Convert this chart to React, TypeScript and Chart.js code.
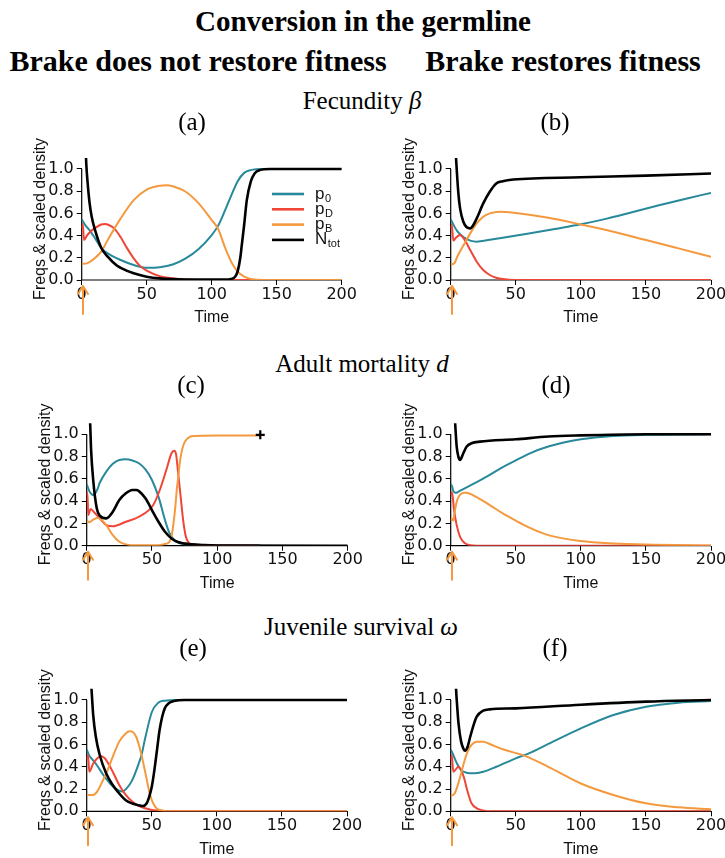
import React, { useEffect, useRef } from "react";
import { Chart, registerables } from "chart.js";

Chart.register(...registerables);

// ---------- styling ----------
const TEAL = "#27899a";
const RED = "#ef4638";
const ORANGE = "#f4993e";
const BLACK = "#000000";
const SANS = '"Liberation Sans", Arial, sans-serif';
const TICKFONT = '"DejaVu Sans", sans-serif';
const SERIF = '"Liberation Serif", "Times New Roman", serif';

// ---------- shared axis data ----------
const X_TICKS = [0, 50, 100, 150, 200];
const Y_TICKS = [0, 0.2, 0.4, 0.6, 0.8, 1.0];
const Y_MAX = 1.1;
const X_TITLE = "Time";
const Y_TITLE = "Freqs & scaled density";
const SERIES_MAIN = ["p", "p", "p", "N"];
const SERIES_SUB = ["0", "D", "B", "tot"];
const RELEASE_TIME = 1;

// ---------- panel (a): fecundity, brake does not restore fitness ----------
const aTP0 = [0, 3, 6, 10, 15, 20, 30, 40, 50, 60, 70, 80, 90, 100, 105, 110, 115, 120, 125, 130, 140, 200];
const aP0 = [0.547, 0.49, 0.45, 0.38, 0.29, 0.24, 0.18, 0.135, 0.11, 0.115, 0.14, 0.195, 0.28, 0.405, 0.49, 0.62, 0.76, 0.89, 0.965, 0.99, 1.0, 1.0];
const aTPD = [0, 0.8, 1.8, 4, 7, 10, 15, 18, 20, 25, 30, 35, 40, 45, 50, 60, 70, 80, 100, 200];
const aPD = [0.466, 0.505, 0.36, 0.4, 0.44, 0.465, 0.5, 0.505, 0.5, 0.465, 0.385, 0.285, 0.195, 0.125, 0.085, 0.035, 0.015, 0.005, 0, 0];
const aTPB = [0, 4, 10, 15, 20, 30, 40, 50, 60, 65, 70, 80, 90, 100, 105, 110, 115, 120, 125, 130, 140, 200];
const aPB = [0.145, 0.15, 0.195, 0.255, 0.36, 0.555, 0.72, 0.815, 0.85, 0.853, 0.845, 0.795, 0.69, 0.54, 0.46, 0.3, 0.165, 0.075, 0.03, 0.01, 0, 0];
const aTN = [0, 1, 2, 3, 3.5, 4.6, 6, 7.7, 10, 15, 20, 27, 30, 40, 50, 60, 80, 110, 115, 118, 120, 122, 123, 125, 127, 130, 133, 137, 145, 200];
const aN = [3.0, 2.2, 1.6, 1.2, 1.05, 0.87, 0.7, 0.57, 0.46, 0.29, 0.21, 0.13, 0.11, 0.06, 0.03, 0.015, 0.005, 0.003, 0.01, 0.03, 0.08, 0.2, 0.3, 0.5, 0.72, 0.885, 0.96, 0.99, 1.0, 1.0];

// ---------- panel (b): fecundity, brake restores fitness ----------
const bTP0 = [0, 2, 5, 10, 15, 20, 30, 40, 60, 80, 100, 120, 140, 160, 180, 200];
const bP0 = [0.547, 0.5, 0.44, 0.385, 0.355, 0.345, 0.362, 0.38, 0.418, 0.46, 0.502, 0.553, 0.613, 0.673, 0.73, 0.785];
const bTPD = [0, 0.8, 2, 4, 7, 10, 15, 20, 25, 30, 35, 40, 50, 200];
const bPD = [0.465, 0.5, 0.355, 0.38, 0.405, 0.375, 0.27, 0.165, 0.09, 0.045, 0.02, 0.008, 0, 0];
const bTPB = [0, 3, 5, 10, 15, 20, 25, 30, 38, 50, 75, 100, 125, 150, 175, 200];
const bPB = [0.14, 0.155, 0.21, 0.315, 0.42, 0.51, 0.57, 0.6, 0.615, 0.603, 0.56, 0.5, 0.435, 0.36, 0.285, 0.21];
const bTN = [0, 1, 2, 3, 4.1, 5.9, 7.2, 9.7, 12.3, 15, 17.4, 20, 25, 30, 35, 40, 48, 100, 150, 200];
const bN = [3.0, 2.2, 1.7, 1.35, 1.1, 0.78, 0.645, 0.525, 0.475, 0.465, 0.495, 0.555, 0.69, 0.795, 0.87, 0.89, 0.905, 0.925, 0.94, 0.96];

// ---------- panel (c): adult mortality, brake does not restore fitness ----------
const cTP0 = [0, 2, 5, 8, 10, 15, 20, 25, 30, 35, 40, 45, 50, 55, 60, 63, 66, 70, 80, 100, 133];
const cP0 = [0.554, 0.49, 0.455, 0.5, 0.565, 0.665, 0.735, 0.77, 0.775, 0.765, 0.74, 0.685, 0.59, 0.44, 0.23, 0.125, 0.065, 0.027, 0.01, 0.005, 0.003];
const cTPD = [0, 0.5, 1.2, 3, 5, 10, 15, 20, 30, 40, 51, 56, 61, 65, 67, 68.5, 70, 72, 74, 76, 78, 80, 90, 133];
const cPD = [0.455, 0.48, 0.275, 0.33, 0.31, 0.245, 0.185, 0.175, 0.215, 0.26, 0.365, 0.5, 0.68, 0.83, 0.853, 0.82, 0.66, 0.44, 0.22, 0.08, 0.03, 0.015, 0.002, 0];
const cTPB = [0, 2, 5, 9, 12, 15, 20, 25, 30, 40, 55, 60, 63, 65, 66.5, 68, 69, 70, 71.5, 74, 78, 82, 100, 133];
const cPB = [0.225, 0.21, 0.235, 0.25, 0.225, 0.185, 0.095, 0.035, 0.012, 0.003, 0.005, 0.015, 0.03, 0.08, 0.2, 0.36, 0.5, 0.6, 0.76, 0.9, 0.97, 0.985, 0.99, 0.99];
const cTN = [0, 1, 2, 2.5, 3.3, 5.1, 7.7, 10, 15, 20, 25, 30, 35, 38, 40, 45, 50, 55, 60, 65, 70, 80, 90, 100, 200];
const cN = [3.0, 2.0, 1.4, 1.15, 0.874, 0.575, 0.336, 0.27, 0.245, 0.305, 0.41, 0.47, 0.5, 0.5, 0.49, 0.425, 0.32, 0.215, 0.125, 0.065, 0.033, 0.012, 0.005, 0.002, 0];
const cExtinctionT = [133];
const cExtinctionV = [0.995];

// ---------- panel (d): adult mortality, brake restores fitness ----------
const dTP0 = [0, 1, 2, 4, 6, 10, 20, 30, 40, 50, 60, 75, 100, 125, 150, 200];
const dP0 = [0.554, 0.535, 0.49, 0.475, 0.485, 0.51, 0.57, 0.635, 0.705, 0.765, 0.825, 0.89, 0.955, 0.985, 0.995, 1.0];
const dTPD = [0, 1, 2.6, 4.6, 7.2, 11, 15, 20, 200];
const dPD = [0.455, 0.48, 0.32, 0.185, 0.08, 0.021, 0.004, 0, 0];
const dTPB = [0, 1, 2, 3, 5, 7, 10, 12, 15, 20, 30, 40, 50, 60, 75, 100, 125, 150, 200];
const dPB = [0.225, 0.24, 0.225, 0.3, 0.41, 0.455, 0.475, 0.475, 0.465, 0.435, 0.365, 0.29, 0.225, 0.165, 0.095, 0.042, 0.02, 0.01, 0.002];
const dTN = [0, 1, 2, 3.3, 4.6, 5.9, 7.2, 9.7, 12.3, 16, 22.5, 50, 75, 100, 150, 200];
const dN = [2.5, 1.8, 1.35, 1.12, 0.89, 0.8, 0.77, 0.83, 0.89, 0.92, 0.934, 0.955, 0.98, 0.99, 1.0, 1.0];

// ---------- panel (e): juvenile survival, brake does not restore fitness ----------
const eTP0 = [0, 2, 4, 7.7, 12.8, 17.9, 23, 27, 30.7, 35, 40, 42, 45, 50, 55, 60, 70, 200];
const eP0 = [0.557, 0.5, 0.47, 0.416, 0.326, 0.25, 0.198, 0.177, 0.206, 0.28, 0.43, 0.5, 0.66, 0.89, 0.976, 0.994, 1.0, 1.0];
const eTPD = [0, 1, 2, 5, 8, 11, 13, 15, 20, 25, 30, 35, 40, 45, 50, 60, 70, 200];
const ePD = [0.467, 0.506, 0.356, 0.43, 0.475, 0.497, 0.485, 0.46, 0.356, 0.236, 0.147, 0.087, 0.048, 0.027, 0.012, 0.003, 0, 0];
const eTPB = [0, 5, 8, 12, 15, 20, 25, 30, 33, 35, 38, 40, 43, 45, 48, 50, 53, 56, 60, 70, 200];
const ePB = [0.147, 0.147, 0.177, 0.266, 0.34, 0.49, 0.626, 0.7, 0.72, 0.716, 0.67, 0.6, 0.46, 0.35, 0.18, 0.1, 0.036, 0.012, 0.003, 0, 0];
const eTN = [0, 1, 2, 3, 3.8, 5, 7, 10, 15, 20, 25, 30, 35, 40, 43, 46, 48, 50, 52, 54, 56, 58, 60, 63, 67, 75, 200];
const eN = [3.0, 2.2, 1.6, 1.25, 1.08, 0.865, 0.67, 0.506, 0.34, 0.236, 0.16, 0.1, 0.07, 0.054, 0.048, 0.07, 0.13, 0.22, 0.37, 0.55, 0.73, 0.85, 0.925, 0.97, 0.99, 1.0, 1.0];

// ---------- panel (f): juvenile survival, brake restores fitness ----------
const fTP0 = [0, 2, 5, 8, 12, 18, 25, 35, 50, 56, 60, 75, 100, 125, 150, 175, 200];
const fP0 = [0.557, 0.506, 0.425, 0.37, 0.347, 0.341, 0.356, 0.4, 0.476, 0.502, 0.52, 0.605, 0.745, 0.865, 0.94, 0.976, 0.99];
const fTPD = [0, 0.8, 2, 6, 8, 10, 13, 16, 20, 25, 30, 200];
const fPD = [0.467, 0.506, 0.356, 0.4, 0.37, 0.31, 0.177, 0.072, 0.027, 0.008, 0, 0];
const fTPB = [0, 3, 5, 8, 10, 13, 16, 20, 25, 30, 40, 56, 75, 100, 125, 150, 175, 200];
const fPB = [0.138, 0.16, 0.22, 0.34, 0.43, 0.536, 0.596, 0.626, 0.626, 0.605, 0.557, 0.502, 0.4, 0.25, 0.147, 0.072, 0.036, 0.018];
const fTN = [0, 1, 2, 3, 4.1, 5, 6, 8, 10, 11, 13, 15, 18, 20, 25, 30, 50, 100, 150, 200];
const fN = [3.0, 2.3, 1.8, 1.4, 1.1, 0.94, 0.79, 0.626, 0.557, 0.545, 0.58, 0.67, 0.79, 0.85, 0.904, 0.916, 0.925, 0.958, 0.985, 1.0];

// ---------- assembly ----------
const COLORS = [TEAL, RED, ORANGE, BLACK];
const WIDTHS = [2, 2, 2, 2.6];
const ORDERS = [4, 3, 2, 1];

type PanelDef = {
  key: string;
  left: number;
  right: number;
  y0: number;
  unit: number;
  times: number[][];
  values: number[][];
  legend?: boolean;
  marker?: { t: number[]; v: number[] };
};

const PANELS: PanelDef[] = [
  { key: "a", left: 81.7, right: 341.7, y0: 280, unit: 111, times: [aTP0, aTPD, aTPB, aTN], values: [aP0, aPD, aPB, aN], legend: true },
  { key: "b", left: 450.7, right: 711, y0: 280, unit: 111, times: [bTP0, bTPD, bTPB, bTN], values: [bP0, bPD, bPB, bN] },
  { key: "c", left: 86.7, right: 347.7, y0: 545.7, unit: 111.4, times: [cTP0, cTPD, cTPB, cTN], values: [cP0, cPD, cPB, cN], marker: { t: cExtinctionT, v: cExtinctionV } },
  { key: "d", left: 450.7, right: 711, y0: 545.7, unit: 111.4, times: [dTP0, dTPD, dTPB, dTN], values: [dP0, dPD, dPB, dN] },
  { key: "e", left: 86.7, right: 347, y0: 811.3, unit: 111.3, times: [eTP0, eTPD, eTPB, eTN], values: [eP0, ePD, ePB, eN] },
  { key: "f", left: 450.7, right: 711, y0: 811.3, unit: 111.3, times: [fTP0, fTPD, fTPB, fTN], values: [fP0, fPD, fPB, fN] },
];

function makeDecor(legend: boolean) {
  return {
    id: "decor",
    beforeDatasetsDraw(chart: any) {
      const { ctx } = chart;
      const xs = chart.scales.x;
      const ys = chart.scales.y;
      const x0 = xs.getPixelForValue(X_TICKS[0]);
      const x1 = xs.getPixelForValue(X_TICKS[X_TICKS.length - 1]);
      const yb = ys.getPixelForValue(Y_TICKS[0]);
      const yt = ys.getPixelForValue(Y_TICKS[Y_TICKS.length - 1]);
      ctx.save();
      ctx.strokeStyle = "#000";
      ctx.lineWidth = 1.2;
      ctx.beginPath();
      ctx.moveTo(x0, yt);
      ctx.lineTo(x0, yb);
      ctx.lineTo(x1, yb);
      ctx.stroke();
      ctx.restore();
    },
    afterDraw(chart: any) {
      const { ctx, chartArea } = chart;
      const xs = chart.scales.x;
      const ys = chart.scales.y;
      const yb = ys.getPixelForValue(Y_TICKS[0]);
      const ax = xs.getPixelForValue(RELEASE_TIME);
      const tip = yb + 6;
      const tail = yb + 34;
      ctx.save();
      ctx.strokeStyle = ORANGE;
      ctx.lineWidth = 2;
      ctx.lineCap = "round";
      ctx.lineJoin = "round";
      ctx.beginPath();
      ctx.moveTo(ax, tail);
      ctx.lineTo(ax, tip);
      ctx.moveTo(ax - 5, tip + 8);
      ctx.lineTo(ax, tip);
      ctx.lineTo(ax + 5, tip + 8);
      ctx.stroke();
      ctx.restore();

      if (legend) {
        const lx = chartArea.left + 190.3;
        const lw = 32;
        const tx = chartArea.left + 233.3;
        ctx.save();
        for (let i = 0; i < SERIES_MAIN.length; i++) {
          const ly = chartArea.top + 36.1 + i * 15.3;
          ctx.strokeStyle = COLORS[i];
          ctx.lineWidth = 2.6;
          ctx.beginPath();
          ctx.moveTo(lx, ly);
          ctx.lineTo(lx + lw, ly);
          ctx.stroke();
          ctx.fillStyle = "#111";
          ctx.textBaseline = "alphabetic";
          ctx.textAlign = "left";
          ctx.font = `17px ${SANS}`;
          ctx.fillText(SERIES_MAIN[i], tx, ly + 4.5);
          const mw = ctx.measureText(SERIES_MAIN[i]).width;
          ctx.font = `11px ${SANS}`;
          ctx.fillText(SERIES_SUB[i], tx + mw + 0.5, ly + 7.5);
        }
        ctx.restore();
      }
    },
  };
}

function Plot({ p }: { p: PanelDef }) {
  const ref = useRef<HTMLCanvasElement | null>(null);
  const areaTop = p.y0 - Y_MAX * p.unit;
  const cl = Math.round(p.left - 55);
  const ct = Math.floor(areaTop - 32);
  const cw = Math.ceil(p.right + 22) - cl;
  const ch = Math.ceil(p.y0 + 51) - ct;
  const yW = p.left - cl;
  const padTop = areaTop - ct;
  const padRight = cl + cw - p.right;
  const xH = ch - (p.y0 - ct);

  useEffect(() => {
    if (!ref.current) return;
    const datasets: any[] = p.times.map((ts, i) => ({
      data: ts.map((t, j) => ({ x: t, y: p.values[i][j] })),
      borderColor: COLORS[i],
      backgroundColor: COLORS[i],
      borderWidth: WIDTHS[i],
      pointRadius: 0,
      fill: false,
      cubicInterpolationMode: "monotone",
      order: ORDERS[i],
    }));
    if (p.marker) {
      datasets.push({
        data: p.marker.t.map((t, j) => ({ x: t, y: p.marker!.v[j] })),
        showLine: false,
        pointStyle: "cross",
        pointRadius: 4.5,
        pointBorderWidth: 2.2,
        pointBorderColor: BLACK,
        borderColor: BLACK,
        order: 0,
        clip: false,
      });
    }
    const chart = new Chart(ref.current, {
      type: "line",
      data: { datasets },
      options: {
        animation: false,
        responsive: false,
        events: [],
        layout: { padding: { left: 0, top: padTop, right: padRight, bottom: 0 } },
        plugins: { legend: { display: false }, tooltip: { enabled: false } },
        scales: {
          x: {
            type: "linear",
            min: X_TICKS[0],
            max: X_TICKS[X_TICKS.length - 1],
            afterBuildTicks: (s: any) => {
              s.ticks = X_TICKS.map((v) => ({ value: v }));
            },
            afterFit: (s: any) => {
              s.height = xH;
            },
            ticks: {
              font: { family: TICKFONT, size: 16 },
              color: "#111",
              padding: 0,
              maxRotation: 0,
              autoSkip: false,
              callback: (v: any) => String(v),
            },
            grid: { drawOnChartArea: false, drawTicks: true, tickLength: 5, color: "#000", lineWidth: 1 },
            border: { display: false },
            title: {
              display: true,
              text: X_TITLE,
              color: "#111",
              font: { family: SANS, size: 16 },
              padding: { top: 0, bottom: 4 },
            },
          },
          y: {
            type: "linear",
            min: 0,
            max: Y_MAX,
            afterBuildTicks: (s: any) => {
              s.ticks = Y_TICKS.map((v) => ({ value: v }));
            },
            afterFit: (s: any) => {
              s.width = yW;
            },
            ticks: {
              font: { family: TICKFONT, size: 16 },
              color: "#111",
              padding: 3,
              autoSkip: false,
              callback: (v: any) => Number(v).toFixed(1),
            },
            grid: { drawOnChartArea: false, drawTicks: true, tickLength: 5, color: "#000", lineWidth: 1 },
            border: { display: false },
            title: {
              display: true,
              text: Y_TITLE,
              color: "#111",
              font: { family: SANS, size: 16 },
              padding: { top: 4, bottom: 0 },
            },
          },
        },
      } as any,
      plugins: [makeDecor(!!p.legend)],
    });
    return () => chart.destroy();
  }, []);

  return (
    <canvas
      ref={ref}
      width={cw}
      height={ch}
      style={{ position: "absolute", left: cl, top: ct, width: cw, height: ch }}
    />
  );
}

function Label({ cx, cy, size, bold, children }: any) {
  return (
    <div
      style={{
        position: "absolute",
        left: cx - 300,
        top: cy - size * 0.6,
        width: 600,
        textAlign: "center",
        fontFamily: SERIF,
        fontSize: size,
        fontWeight: bold ? 700 : 400,
        lineHeight: `${size * 1.2}px`,
        whiteSpace: "nowrap",
        color: "#000",
      }}
    >
      {children}
    </div>
  );
}

export default function App() {
  return (
    <div
      style={{
        position: "absolute",
        left: 0,
        top: 0,
        width: 725,
        height: 858,
        overflow: "hidden",
        background: "#fff",
      }}
    >
      {PANELS.map((p) => (
        <Plot key={p.key} p={p} />
      ))}

      <Label cx={363} cy={21} size={29} bold>Conversion in the germline</Label>
      <Label cx={198} cy={61} size={30} bold>Brake does not restore fitness</Label>
      <Label cx={563} cy={61} size={30} bold>Brake restores fitness</Label>

      <Label cx={362} cy={101} size={25}>Fecundity <i>β</i></Label>
      <Label cx={192} cy={122} size={25}>(a)</Label>
      <Label cx={555} cy={122} size={25}>(b)</Label>

      <Label cx={362} cy={364} size={25}>Adult mortality <i>d</i></Label>
      <Label cx={191} cy={385} size={25}>(c)</Label>
      <Label cx={556} cy={385} size={25}>(d)</Label>

      <Label cx={361} cy={627} size={25}>Juvenile survival <i>ω</i></Label>
      <Label cx={193} cy={648} size={25}>(e)</Label>
      <Label cx={555} cy={648} size={25}>(f)</Label>
    </div>
  );
}
